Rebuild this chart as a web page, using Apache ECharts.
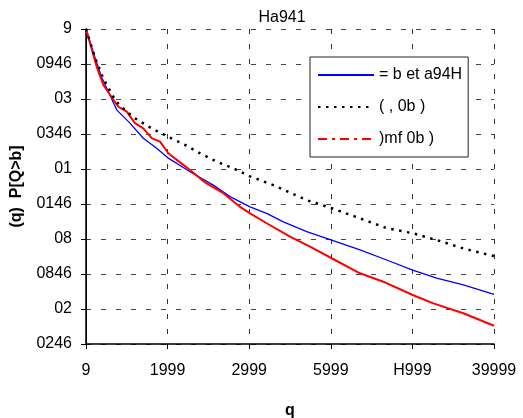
<!DOCTYPE html>
<html>
<head>
<meta charset="utf-8">
<script src="https://cdn.jsdelivr.net/npm/echarts@6/dist/echarts.min.js"></script>
<style>html,body{margin:0;padding:0;background:#fff}#c{width:523px;height:418px}</style>
</head>
<body>
<div id="c"></div>
<script>
var xTickLabels = ['9', '1999', '2999', '5999', 'H999', '39999'];
var yTickLabels = ['0246', '02', '0846', '08', '0146', '01', '0346', '03', '0946', '9'];
var titleText = 'Ha941';
var xName = 'q';
var yName = '(q)  P[Q>b]';
var seriesNames = ['= b et a94H', '( , 0b )', ')mf 0b )'];

var blueX = [0, 0.110, 0.192, 0.376, 0.539, 0.702, 0.866, 1.009, 1.275, 1.560, 1.765, 2.010, 2.214, 2.418, 2.705, 3.011, 3.358, 3.685, 4.004, 4.298, 4.624, 5.0];
var blueY = [9, 8.19, 7.62, 6.69, 6.31, 5.88, 5.59, 5.31, 4.92, 4.54, 4.21, 3.92, 3.73, 3.49, 3.21, 2.97, 2.69, 2.40, 2.11, 1.88, 1.69, 1.42];

var blackX = [0, 0.110, 0.210, 0.360, 0.499, 0.600, 0.805, 1.009, 1.213, 1.397, 1.602, 1.805, 2.010, 2.295, 2.705, 3.011, 3.358, 3.685, 4.011, 4.298, 4.624, 5.0];
var blackY = [9, 8.19, 7.60, 6.95, 6.64, 6.45, 6.16, 5.92, 5.69, 5.45, 5.21, 5.02, 4.79, 4.54, 4.11, 3.88, 3.59, 3.31, 3.16, 2.97, 2.73, 2.51];

var redX = [0, 0.131, 0.212, 0.396, 0.499, 0.600, 0.702, 0.805, 0.907, 1.009, 1.152, 1.275, 1.418, 1.479, 1.683, 1.887, 2.010, 2.214, 2.5, 2.745, 3.011, 3.358, 3.643, 4.004, 4.256, 4.624, 5.0];
var redY = [9, 7.92, 7.40, 6.78, 6.64, 6.31, 6.16, 5.88, 5.78, 5.45, 5.19, 4.97, 4.69, 4.59, 4.31, 3.92, 3.73, 3.45, 3.07, 2.78, 2.45, 2.02, 1.78, 1.40, 1.16, 0.88, 0.52];

function pairs(xs, ys) { return xs.map(function (x, i) { return [x, ys[i]]; }); }

var FONT = 'Liberation Sans, Arial, sans-serif';
var chart = echarts.init(document.getElementById('c'), null, {renderer: 'canvas'});
chart.setOption({
  animation: false,
  backgroundColor: '#fff',
  title: {
    text: titleText, left: 277, top: 5, textAlign: 'center',
    textStyle: {fontFamily: FONT, fontSize: 16, fontWeight: 'normal', color: '#000'}
  },
  legend: {
    show: true,
    orient: 'vertical', left: 310, top: 57,
    padding: [10, 6, 10, 7], itemGap: 16, itemWidth: 56, itemHeight: 14,
    backgroundColor: '#fff', borderColor: '#222', borderWidth: 1,
    itemStyle: {opacity: 0},
    textStyle: {fontFamily: FONT, fontSize: 16, color: '#000'},
    data: [
      {name: seriesNames[0]},
      {name: seriesNames[1]},
      {name: seriesNames[2], lineStyle: {type: [9, 5, 3, 5]}}
    ]
  },
  grid: {left: 86, right: 29, top: 29, bottom: 74, containLabel: false, outerBoundsMode: 'none'},
  xAxis: {
    type: 'value', min: 0, max: 5, interval: 1,
    name: xName, nameLocation: 'middle', nameGap: 59,
    nameTextStyle: {fontFamily: FONT, fontSize: 16, fontWeight: 'bold', color: '#000'},
    axisLine: {onZero: false, lineStyle: {color: '#000', width: 1.5}},
    axisTick: {show: true, length: 5, lineStyle: {color: '#000'}},
    axisLabel: {margin: 19, fontFamily: FONT, fontSize: 16, color: '#000',
      formatter: function (v) { return xTickLabels[Math.round(v)]; }},
    splitLine: {show: true, lineStyle: {color: '#333', type: [5, 10], width: 1}}
  },
  yAxis: [{
    type: 'value', min: 0, max: 9, interval: 1,
    name: yName, nameLocation: 'middle', nameGap: 61, nameRotate: 90,
    nameTextStyle: {fontFamily: FONT, fontSize: 16, fontWeight: 'bold', color: '#000'},
    axisLine: {show: true, onZero: false, lineStyle: {color: '#000', width: 1.5}},
    axisTick: {show: true, length: 5, lineStyle: {color: '#000'}},
    axisLabel: {margin: 14, fontFamily: FONT, fontSize: 16, color: '#000',
      formatter: function (v) { return yTickLabels[Math.round(v)]; }},
    splitLine: {show: true, lineStyle: {color: '#444', type: [5, 10], width: 1}}
  }, {
    type: 'value', min: 0, max: 9, interval: 1, position: 'right',
    axisLine: {show: true, lineStyle: {color: '#000', width: 1}},
    axisTick: {show: false}, axisLabel: {show: false}, splitLine: {show: false}
  }],
  series: [
    {name: seriesNames[0], type: 'line', data: pairs(blueX, blueY), symbol: 'none', z: 2,
      color: '#0000ff', lineStyle: {color: '#0000ff', width: 1.3}},
    {name: seriesNames[1], type: 'line', data: pairs(blackX, blackY), symbol: 'none', z: 4,
      color: '#000', lineStyle: {color: '#000', width: 2.5, type: [2.5, 5.5]}},
    {name: seriesNames[2], type: 'line', data: pairs(redX, redY), symbol: 'none', z: 3,
      color: '#ff0000', lineStyle: {color: '#ff0000', width: 2}}
  ]
});
</script>
</body>
</html>
